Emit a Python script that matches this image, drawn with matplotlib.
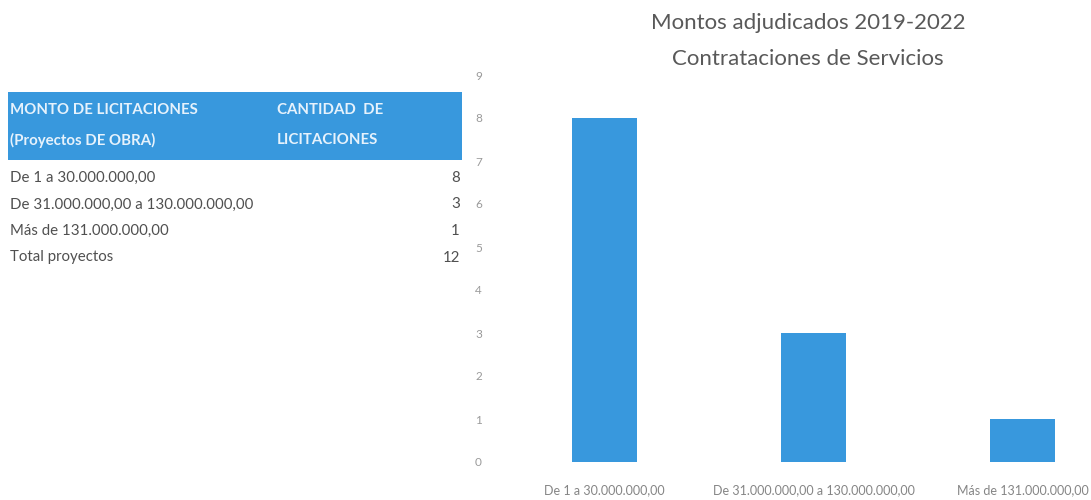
import matplotlib
matplotlib.use("Agg")
import matplotlib.pyplot as plt
from matplotlib.patches import Rectangle

# ---- data ----
table_header_left = ["MONTO DE LICITACIONES", "(Proyectos DE OBRA)"]
table_header_right = ["CANTIDAD  DE", "LICITACIONES"]
ranges = ["De 1 a 30.000.000,00", "De 31.000.000,00 a 130.000.000,00", "Más de 131.000.000,00"]
counts = [8, 3, 1]
total_label = "Total proyectos"
total_count = 12
title_lines = ["Montos adjudicados 2019-2022", "Contrataciones de Servicios"]
y_ticks = list(range(0, 10))

W, H = 1091, 500
BLUE = "#3898dd"
FONT = ["Lato", "DejaVu Sans"]

fig = plt.figure(figsize=(W / 100, H / 100), dpi=100)
fig.patch.set_facecolor("white")

def fx(px):
    return px / W

def fy(py):
    return 1 - py / H

# ---- table ----
fig.patches.append(Rectangle((fx(8), fy(160)), fx(462) - fx(8), fy(92) - fy(160),
                             transform=fig.transFigure, facecolor=BLUE, edgecolor="none"))
for i, (l, r) in enumerate(zip(table_header_left, table_header_right)):
    yy = 110 + i * 30
    fig.text(fx(10), fy(yy), l, family=FONT, fontsize=10.8, fontweight="bold",
             color="#e6f2fc", va="center", ha="left")
    fig.text(fx(277), fy(yy), r, family=FONT, fontsize=10.8, fontweight="bold",
             color="#e6f2fc", va="center", ha="left")

rows = ranges + [total_label]
vals = counts + [total_count]
for i, (l, v) in enumerate(zip(rows, vals)):
    yy = 178 + i * 26.5
    fig.text(fx(10), fy(yy), l, family=FONT, fontsize=10.8, color="#505050",
             va="center", ha="left")
    fig.text(fx(460), fy(yy), str(v), family=FONT, fontsize=10.8, color="#505050",
             va="center", ha="right")

# ---- chart ----
ax_left, ax_right = 500, 1091
ax_top, ax_bottom = 75, 462
ax = fig.add_axes([fx(ax_left), fy(ax_bottom), fx(ax_right) - fx(ax_left), fy(ax_top) - fy(ax_bottom)])
x = list(range(len(ranges)))
ax.bar(x, counts, width=0.31, color=BLUE)
ax.set_ylim(0, 9)
ax.set_xlim(-0.5, -0.5 + (ax_right - ax_left) / 209)
ax.set_yticks(y_ticks)
ax.set_yticklabels([str(t) for t in y_ticks], family=FONT, fontsize=8.5, color="#9a9a9a")
ax.set_xticks(x)
ax.set_xticklabels(ranges, family=FONT, fontsize=9.0, color="#858585")
ax.tick_params(axis="both", length=0)
ax.tick_params(axis="y", pad=13)
ax.tick_params(axis="x", pad=16)
for s in ax.spines.values():
    s.set_visible(False)
ax.patch.set_alpha(0)

fig.text(fx(808), fy(23), title_lines[0], family=FONT, fontsize=16, color="#595959",
         ha="center", va="center")
fig.text(fx(808), fy(59), title_lines[1], family=FONT, fontsize=16, color="#595959",
         ha="center", va="center")

fig.savefig("out.png", dpi=100, facecolor="white")
